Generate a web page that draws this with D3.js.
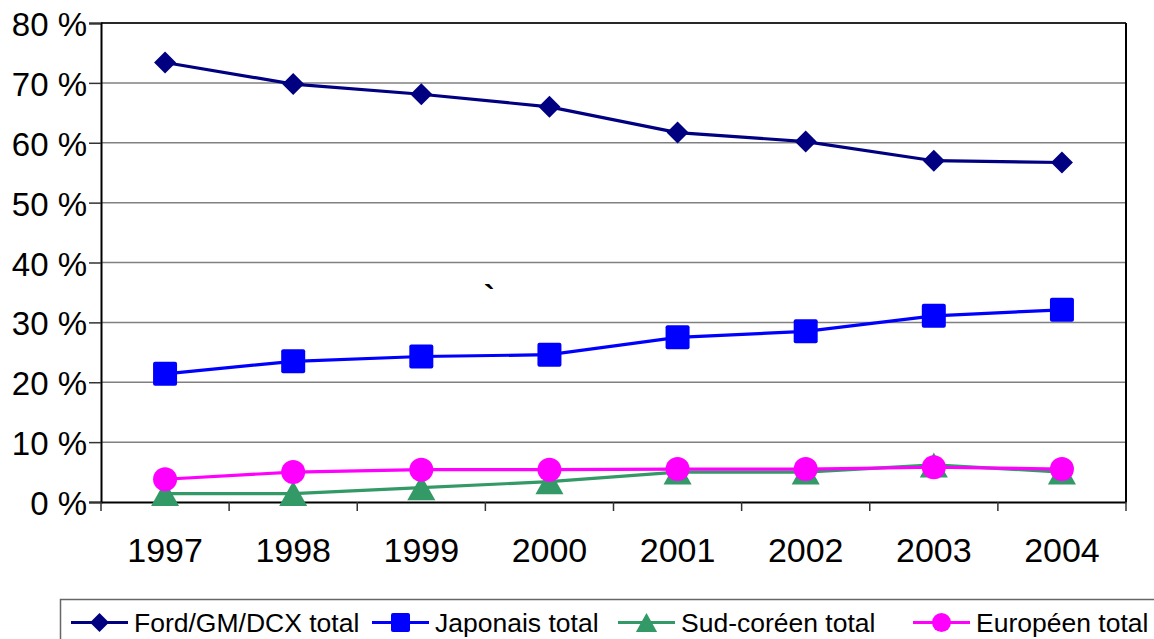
<!DOCTYPE html>
<html><head><meta charset="utf-8">
<script src="https://cdn.jsdelivr.net/npm/d3@7/dist/d3.min.js"></script>
<style>html,body{margin:0;padding:0;background:#fff;overflow:hidden}svg{display:block;font-family:"Liberation Sans",Arial,sans-serif}</style>
</head><body><svg id="c" width="1154" height="639"></svg>
<script>
const years = ["1997","1998","1999","2000","2001","2002","2003","2004"];
const yTicks = [0,10,20,30,40,50,60,70,80];
const fordGmDcx = [73.4,69.8,68.1,66.0,61.7,60.2,57.0,56.7];
const japonais = [21.4,23.5,24.3,24.6,27.5,28.5,31.1,32.1];
const sudCoreen = [1.4,1.4,2.4,3.4,5.0,5.0,6.2,5.0];
const europeen = [3.8,5.0,5.4,5.4,5.5,5.5,5.8,5.5];
const seriesNames = ["Ford/GM/DCX total","Japonais total","Sud-coréen total","Européen total"];

const series = [
  {name:seriesNames[0], values:fordGmDcx, color:"#000080", shape:"diamond"},
  {name:seriesNames[1], values:japonais, color:"#0000FF", shape:"square"},
  {name:seriesNames[2], values:sudCoreen, color:"#339966", shape:"triangle"},
  {name:seriesNames[3], values:europeen, color:"#FF00FF", shape:"circle"}
];

const svg = d3.select("#c");
const L=101, R=1126, T=23, B=502;
const x = d3.scaleBand().domain(years).range([L,R]);
const y = d3.scaleLinear().domain([0,80]).range([B,T]);

svg.append("g").selectAll("line").data(yTicks.filter(d=>d>0)).join("line")
  .attr("x1",L).attr("x2",R).attr("y1",d=>y(d)).attr("y2",d=>y(d))
  .attr("stroke","#808080").attr("stroke-width",1.5);
svg.append("line").attr("x1",R).attr("x2",R).attr("y1",T).attr("y2",B).attr("stroke","#000").attr("stroke-width",2);
svg.append("line").attr("x1",L).attr("x2",R).attr("y1",T).attr("y2",T).attr("stroke","#000").attr("stroke-width",1.5);

const yAxis = d3.axisLeft(y).tickValues(yTicks).tickSize(12).tickPadding(2).tickFormat(d=>d+" %");
const gy = svg.append("g").attr("transform",`translate(${L},0)`).call(yAxis);
gy.select(".domain").attr("stroke","#000").attr("stroke-width",2);
gy.selectAll(".tick line").attr("stroke","#333").attr("stroke-width",1.5);
gy.selectAll(".tick text").attr("font-size",33).attr("fill","#000").attr("font-family","'Liberation Sans',Arial,sans-serif").attr("dy","0.38em");

const xAxis = d3.axisBottom(x).tickSize(0).tickPadding(36);
const gx = svg.append("g").attr("transform",`translate(0,${B})`).call(xAxis);
gx.select(".domain").attr("stroke","#000").attr("stroke-width",2);
gx.selectAll(".tick text").attr("font-size",34).attr("fill","#000").attr("font-family","'Liberation Sans',Arial,sans-serif");
const bounds = years.map(d=>x(d)).concat([R]);
svg.append("g").selectAll("line").data(bounds).join("line")
  .attr("x1",d=>d).attr("x2",d=>d).attr("y1",B).attr("y2",B+9)
  .attr("stroke","#333").attr("stroke-width",1.5);

function marker(g, shape, cx, cy, color, s){
  if(shape==="diamond"){
    const h=s/2;
    g.append("path").attr("d",`M${cx},${cy-h}L${cx+h},${cy}L${cx},${cy+h}L${cx-h},${cy}Z`).attr("fill",color);
  } else if(shape==="square"){
    g.append("rect").attr("x",cx-s/2).attr("y",cy-s/2).attr("width",s).attr("height",s).attr("rx",2).attr("fill",color);
  } else if(shape==="triangle"){
    const w=s*1.12, h=s;
    g.append("path").attr("d",`M${cx},${cy-h/2}L${cx+w/2},${cy+h/2}L${cx-w/2},${cy+h/2}Z`).attr("fill",color);
  } else {
    g.append("circle").attr("cx",cx).attr("cy",cy).attr("r",s/2).attr("fill",color);
  }
}

const cx = d=>x(d)+x.bandwidth()/2;
const line = d3.line().x((v,i)=>cx(years[i])).y(v=>y(v));
const sizes = {diamond:22, square:24, triangle:25, circle:24};
series.forEach(s=>{
  const g = svg.append("g");
  g.append("path").attr("d",line(s.values)).attr("fill","none").attr("stroke",s.color).attr("stroke-width",3.2);
  s.values.forEach((v,i)=>marker(g,s.shape,cx(years[i]),y(v),s.color,sizes[s.shape]));
});

svg.append("text").attr("x",484).attr("y",307).attr("font-size",32).attr("font-weight","bold").attr("fill","#000").text("`");

const lg = svg.append("g");
lg.append("rect").attr("x",60.5).attr("y",599.5).attr("width",1100).attr("height",60).attr("fill","#fff").attr("stroke","#666").attr("stroke-width",1.5);
const legX = [71, 372, 618, 913];
series.forEach((s,i)=>{
  const lx = legX[i], ly = 622.5;
  lg.append("line").attr("x1",lx).attr("x2",lx+57).attr("y1",ly).attr("y2",ly).attr("stroke",s.color).attr("stroke-width",3.2);
  marker(lg,s.shape,lx+28.5,ly,s.color,19);
  lg.append("text").attr("x",lx+63).attr("y",ly+9).attr("font-size",26.5).attr("fill","#000").text(s.name);
});
</script></body></html>
